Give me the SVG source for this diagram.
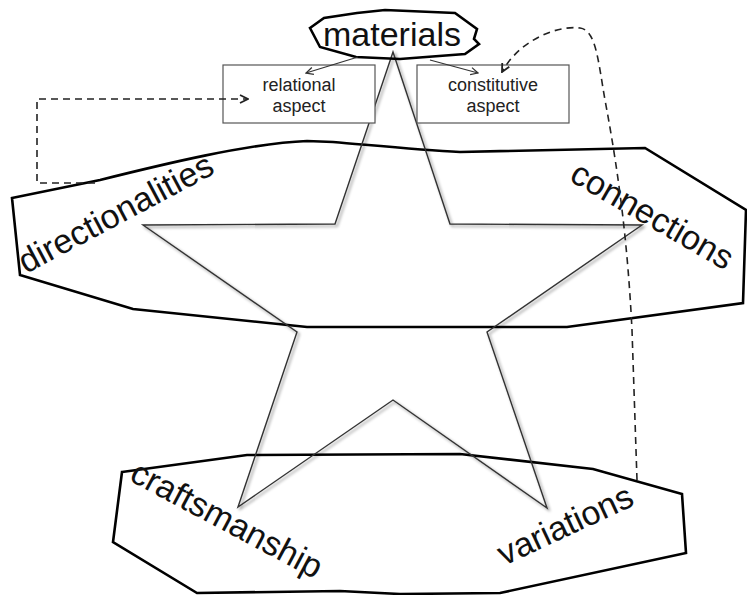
<svg xmlns="http://www.w3.org/2000/svg" width="747" height="595" viewBox="0 0 747 595">
<style>
.blob{fill:none;stroke:#000;stroke-width:2.6;stroke-linejoin:miter}
.star{fill:none;stroke:#333;stroke-width:1.4;stroke-linejoin:miter}
.box{fill:#fff;stroke:#555;stroke-width:1.2}
.big{font-family:"Liberation Sans",Arial,sans-serif;font-size:34px;fill:#111}
.small{font-family:"Liberation Sans",Arial,sans-serif;font-size:18px;fill:#222;text-anchor:middle}
.dash{fill:none;stroke:#222;stroke-width:1.6;stroke-dasharray:7 5}
.solid{fill:none;stroke:#333;stroke-width:1.2}
</style>
<defs>
<filter id="sh" x="-10%" y="-10%" width="120%" height="120%">
<feDropShadow dx="2" dy="2" stdDeviation="1.5" flood-color="#000" flood-opacity="0.45"/>
</filter>
<marker id="openL" viewBox="0 0 10 10" refX="9" refY="5" markerWidth="10" markerHeight="10" markerUnits="userSpaceOnUse" orient="auto">
<path d="M1,1 L9,5 L1,9" fill="none" stroke="#222" stroke-width="1.8"/>
</marker>
<marker id="openS" viewBox="0 0 10 10" refX="9" refY="5" markerWidth="9" markerHeight="9" markerUnits="userSpaceOnUse" orient="auto">
<path d="M1,1 L9,5 L1,9" fill="none" stroke="#333" stroke-width="1.4"/>
</marker>
</defs>
<rect width="747" height="595" fill="#fff"/>

<g id="directionalities-connections">
<path class="blob" d="M12,198 L100,180 C160,165 250,143 307,141 L333,142 C380,146 420,150 460,152 L645,148 L746,210 L743,303 L567,327 L307,327 L133,309 L20,275 Z"/>
</g>
<g id="craftsmanship-variations">
<path class="blob" d="M122,472 L247,455 L460,454 L593,469 L682,494 L686,553 L500,593 L400,594 L340,591 L197,593 L113,542 Z"/>
</g>

<g id="star">
<path class="star" filter="url(#sh)" d="M393,52 L450,224 L642,225 L487,332 L547,508 L393,400 L238,507 L297,332 L143,225 L335,224 Z"/>
</g>

<g id="materials">
<path class="blob" d="M310,28 L324,18 L357,13 L385,10 L455,13 L477,29 L474,39 L479,44 L465,54 L400,59 L356,57 L320,47 Z"/>
<text class="big" x="392" y="46" text-anchor="middle">materials</text>
</g>

<g id="relational-aspect">
<rect class="box" x="223" y="65" width="152" height="58"/>
<text class="small" x="299" y="91">relational</text>
<text class="small" x="299" y="112">aspect</text>
</g>
<g id="constitutive-aspect">
<rect class="box" x="417" y="65" width="152" height="58"/>
<text class="small" x="493" y="91">constitutive</text>
<text class="small" x="493" y="112">aspect</text>
</g>

<g id="labels">
<text class="big" transform="translate(26,274) rotate(-28)">directionalities</text>
<text class="big" transform="translate(568,180) rotate(30)">connections</text>
<text class="big" transform="translate(128,480) rotate(28)">craftsmanship</text>
<text class="big" transform="translate(504,566) rotate(-25)">variations</text>
</g>

<g id="connectors">
<path class="solid" marker-end="url(#openS)" d="M358,57 L306,73"/>
<path class="solid" marker-end="url(#openS)" d="M430,60 L478,73"/>
<path class="dash" marker-end="url(#openL)" d="M95,183 L37,183 L37,99 L248,99"/>
<path class="dash" marker-end="url(#openL)" d="M637,480 L632,330 C628,250 620,180 605,100 C598,60 596,30 580,28 C555,25 518,42 502,72"/>
</g>
</svg>
